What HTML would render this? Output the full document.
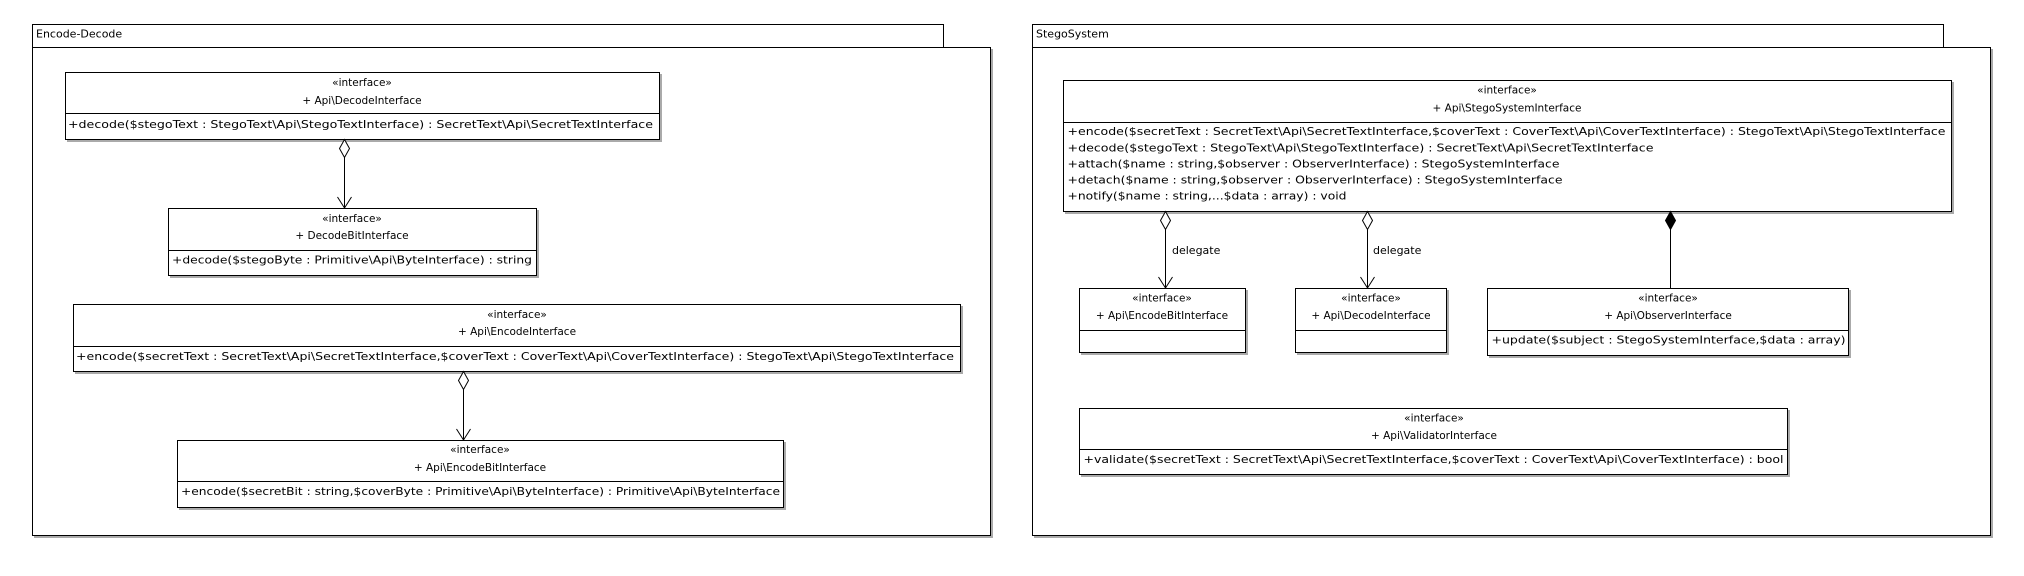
<!DOCTYPE html>
<html><head><meta charset="utf-8"><style>
html,body{margin:0;padding:0;background:#fff;width:2024px;height:576px;overflow:hidden}
svg{display:block}
text{font-family:"DejaVu Sans","Liberation Sans",sans-serif;font-size:11px;fill:#000}
.c{text-anchor:middle;font-size:10.5px}
rect{fill:#fff;stroke:#000;stroke-width:1}
line{stroke:#000;stroke-width:1}
.s{filter:drop-shadow(2px 2px 0 #aaa)}
</style></head><body>
<svg width="2024" height="576" viewBox="0 0 2024 576" xmlns="http://www.w3.org/2000/svg">
<!-- Left package -->
<rect x="32.5" y="24.5" width="911" height="23"/>
<rect x="32.5" y="47.5" width="958" height="488" class="s"/>
<text x="36" y="37.5">Encode-Decode</text>

<rect x="65.5" y="72.5" width="594" height="67" class="s"/>
<line x1="65" y1="113.5" x2="659" y2="113.5"/>
<text class="c" x="362" y="86">«interface»</text>
<text class="c" x="362" y="104">+ Api\DecodeInterface</text>
<text x="68" y="128" textLength="585" lengthAdjust="spacingAndGlyphs">+decode($stegoText : StegoText\Api\StegoTextInterface) : SecretText\Api\SecretTextInterface</text>

<line x1="344.5" y1="157" x2="344.5" y2="208"/>
<polygon points="344.5,139.5 349.5,148.5 344.5,157.5 339.5,148.5" fill="#fff" stroke="#000"/>
<polyline points="337.5,197 344.5,208 351.5,197" fill="none" stroke="#000"/>

<rect x="168.5" y="208.5" width="368" height="67" class="s"/>
<line x1="168" y1="250.5" x2="536" y2="250.5"/>
<text class="c" x="352" y="222">«interface»</text>
<text class="c" x="352" y="239">+ DecodeBitInterface</text>
<text x="172" y="263.5" textLength="360" lengthAdjust="spacingAndGlyphs">+decode($stegoByte : Primitive\Api\ByteInterface) : string</text>

<rect x="73.5" y="304.5" width="887" height="67" class="s"/>
<line x1="73" y1="346.5" x2="960" y2="346.5"/>
<text class="c" x="517" y="318">«interface»</text>
<text class="c" x="517" y="335">+ Api\EncodeInterface</text>
<text x="76" y="360" textLength="878" lengthAdjust="spacingAndGlyphs">+encode($secretText : SecretText\Api\SecretTextInterface,$coverText : CoverText\Api\CoverTextInterface) : StegoText\Api\StegoTextInterface</text>

<line x1="463.5" y1="389" x2="463.5" y2="440"/>
<polygon points="463.5,371.5 468.5,380.5 463.5,389.5 458.5,380.5" fill="#fff" stroke="#000"/>
<polyline points="456.5,429 463.5,440 470.5,429" fill="none" stroke="#000"/>

<rect x="177.5" y="440.5" width="606" height="67" class="s"/>
<line x1="177" y1="481.5" x2="783" y2="481.5"/>
<text class="c" x="480" y="453">«interface»</text>
<text class="c" x="480" y="471">+ Api\EncodeBitInterface</text>
<text x="181" y="495" textLength="599" lengthAdjust="spacingAndGlyphs">+encode($secretBit : string,$coverByte : Primitive\Api\ByteInterface) : Primitive\Api\ByteInterface</text>

<!-- Right package -->
<rect x="1032.5" y="24.5" width="911" height="23"/>
<rect x="1032.5" y="47.5" width="958" height="488" class="s"/>
<text x="1036" y="37.5">StegoSystem</text>

<rect x="1063.5" y="80.5" width="888" height="131" class="s"/>
<line x1="1063" y1="122.5" x2="1951" y2="122.5"/>
<text class="c" x="1507" y="93.5">«interface»</text>
<text class="c" x="1507" y="111.5">+ Api\StegoSystemInterface</text>
<text x="1067.5" y="135" textLength="878" lengthAdjust="spacingAndGlyphs">+encode($secretText : SecretText\Api\SecretTextInterface,$coverText : CoverText\Api\CoverTextInterface) : StegoText\Api\StegoTextInterface</text>
<text x="1067.5" y="151.5" textLength="586" lengthAdjust="spacingAndGlyphs">+decode($stegoText : StegoText\Api\StegoTextInterface) : SecretText\Api\SecretTextInterface</text>
<text x="1067.5" y="167.5" textLength="492" lengthAdjust="spacingAndGlyphs">+attach($name : string,$observer : ObserverInterface) : StegoSystemInterface</text>
<text x="1067.5" y="183.5" textLength="495" lengthAdjust="spacingAndGlyphs">+detach($name : string,$observer : ObserverInterface) : StegoSystemInterface</text>
<text x="1067.5" y="199.5" textLength="279" lengthAdjust="spacingAndGlyphs">+notify($name : string,...$data : array) : void</text>

<line x1="1165.5" y1="229" x2="1165.5" y2="288"/>
<polygon points="1165.5,211.5 1170.5,220.5 1165.5,229.5 1160.5,220.5" fill="#fff" stroke="#000"/>
<polyline points="1158.5,277 1165.5,288 1172.5,277" fill="none" stroke="#000"/>
<text x="1172" y="254">delegate</text>

<line x1="1367.5" y1="229" x2="1367.5" y2="288"/>
<polygon points="1367.5,211.5 1372.5,220.5 1367.5,229.5 1362.5,220.5" fill="#fff" stroke="#000"/>
<polyline points="1360.5,277 1367.5,288 1374.5,277" fill="none" stroke="#000"/>
<text x="1373" y="254">delegate</text>

<line x1="1670.5" y1="229" x2="1670.5" y2="288"/>
<polygon points="1670.5,211.5 1675.5,220.5 1670.5,229.5 1665.5,220.5" fill="#000" stroke="#000"/>

<rect x="1079.5" y="288.5" width="166" height="64" class="s"/>
<line x1="1079" y1="330.5" x2="1245" y2="330.5"/>
<text class="c" x="1162" y="301.5">«interface»</text>
<text class="c" x="1162" y="319">+ Api\EncodeBitInterface</text>

<rect x="1295.5" y="288.5" width="151" height="64" class="s"/>
<line x1="1295" y1="330.5" x2="1446" y2="330.5"/>
<text class="c" x="1371" y="301.5">«interface»</text>
<text class="c" x="1371" y="319">+ Api\DecodeInterface</text>

<rect x="1487.5" y="288.5" width="361" height="67" class="s"/>
<line x1="1487" y1="330.5" x2="1848" y2="330.5"/>
<text class="c" x="1668" y="301.5">«interface»</text>
<text class="c" x="1668" y="319">+ Api\ObserverInterface</text>
<text x="1491.5" y="343.5" textLength="354" lengthAdjust="spacingAndGlyphs">+update($subject : StegoSystemInterface,$data : array)</text>

<rect x="1079.5" y="408.5" width="708" height="66" class="s"/>
<line x1="1079" y1="449.5" x2="1787" y2="449.5"/>
<text class="c" x="1434" y="421.5">«interface»</text>
<text class="c" x="1434" y="439">+ Api\ValidatorInterface</text>
<text x="1083.5" y="463" textLength="700" lengthAdjust="spacingAndGlyphs">+validate($secretText : SecretText\Api\SecretTextInterface,$coverText : CoverText\Api\CoverTextInterface) : bool</text>
</svg>
</body></html>
